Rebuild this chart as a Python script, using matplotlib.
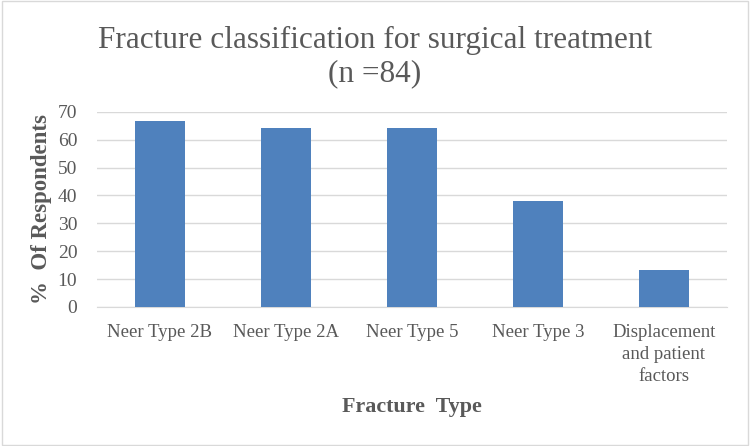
import matplotlib
matplotlib.use("Agg")
import matplotlib.pyplot as plt
from matplotlib.patches import Rectangle

categories = ["Neer Type 2B", "Neer Type 2A", "Neer Type 5", "Neer Type 3",
              "Displacement\nand patient\nfactors"]
values = [66.7, 64.3, 64.3, 38.1, 13.1]
yticks = [0, 10, 20, 30, 40, 50, 60, 70]

plt.rcParams['font.family'] = ['Liberation Serif', 'DejaVu Serif']
gray = '#595959'

fig = plt.figure(figsize=(7.5, 4.46), dpi=100)
ax = fig.add_axes([0.129, 0.312, 0.84, 0.437])
x = range(len(categories))
ax.bar(x, values, width=0.4, color='#4f81bd', zorder=3)
ax.set_xlim(-0.5, len(categories) - 0.5)
ax.set_ylim(0, 70)
ax.set_yticks(yticks)
ax.set_yticklabels([str(v) for v in yticks], fontsize=14, color=gray)
ax.set_xticks(list(x))
ax.set_xticklabels(categories, fontsize=13.5, color=gray, linespacing=1.42)
ax.tick_params(axis='y', length=0, pad=14)
ax.tick_params(axis='x', length=0, pad=12)
ax.grid(axis='y', color='#d9d9d9', linewidth=1, zorder=0)
for s in ['top', 'right', 'left']:
    ax.spines[s].set_visible(False)
ax.spines['bottom'].set_color('#d9d9d9')
ax.set_ylabel('%  Of Respondents', fontsize=16.5, fontweight='bold', color=gray, labelpad=4)
ax.set_xlabel('Fracture  Type', fontsize=15.8, fontweight='bold', color=gray, labelpad=8)
fig.text(0.5, 0.909, 'Fracture classification for surgical treatment', ha='center',
         va='center', fontsize=22.5, color=gray)
fig.text(0.5, 0.835, '(n =84)', ha='center', va='center', fontsize=22.5, color=gray)
fig.patches.append(Rectangle((0.003, 0.003), 0.994, 0.994, transform=fig.transFigure,
                             fill=False, edgecolor='#d9d9d9', linewidth=1))
fig.savefig('out.png', dpi=100)
